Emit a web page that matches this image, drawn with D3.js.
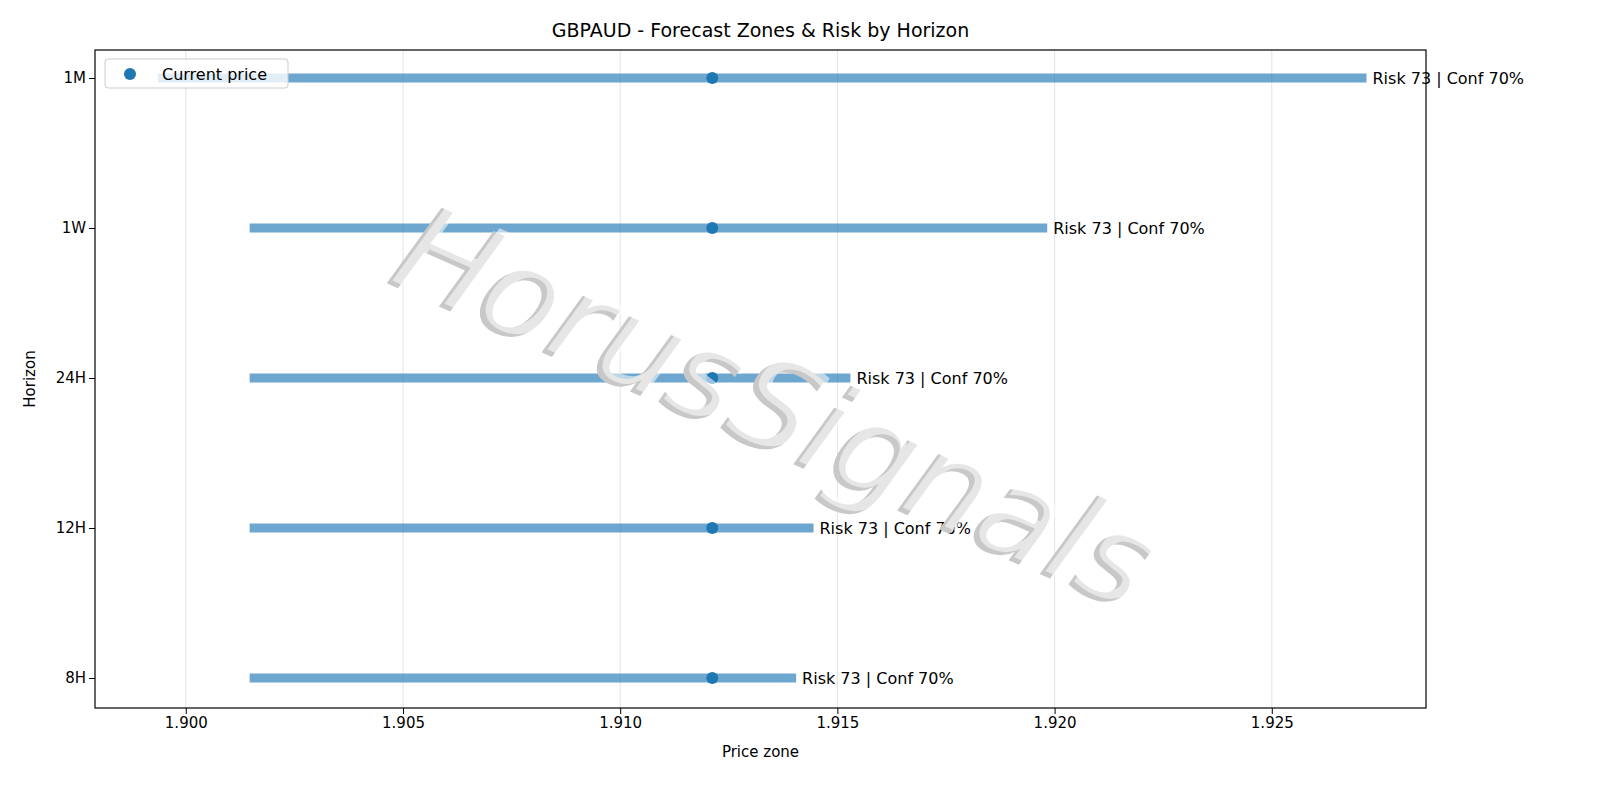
<!DOCTYPE html>
<html><head><meta charset="utf-8">
<script src="https://cdn.jsdelivr.net/npm/d3@7"></script>
<style>html,body{margin:0;overflow:hidden;background:#fff}svg{display:block}text{font-family:"DejaVu Sans",sans-serif}</style>
</head><body><svg id="c" width="1600" height="800"></svg>
<script>
const horizons = ["1M","1W","24H","12H","8H"];
const lows = [1.89936, 1.90147, 1.90147, 1.90147, 1.90147];
const highs = [1.92718, 1.91983, 1.91530, 1.91445, 1.91405];
const current = [1.91212, 1.91212, 1.91212, 1.91212, 1.91212];
const labels = ["Risk 73 | Conf 70%","Risk 73 | Conf 70%","Risk 73 | Conf 70%","Risk 73 | Conf 70%","Risk 73 | Conf 70%"];
const xTicks = [1.900,1.905,1.910,1.915,1.920,1.925];

const svg = d3.select("#c");
const L=95,R=1426,T=50,B=708;
const x = d3.scaleLinear().domain([1.89791,1.92855]).range([L,R]);
const y = d3.scalePoint().domain(horizons).range([T+28,B-30]);

svg.append("g").selectAll("line").data(xTicks).join("line")
 .attr("x1",d=>x(d)).attr("x2",d=>x(d)).attr("y1",T).attr("y2",B)
 .attr("stroke","#e3e3e3").attr("stroke-width",1);

svg.append("g").selectAll("line").data(horizons).join("line")
 .attr("x1",(d,i)=>x(lows[i])).attr("x2",(d,i)=>x(highs[i]))
 .attr("y1",d=>y(d)).attr("y2",d=>y(d))
 .attr("stroke","#1f77b4").attr("stroke-opacity",0.65).attr("stroke-width",9);
svg.append("g").selectAll("circle").data(horizons).join("circle")
 .attr("cx",(d,i)=>x(current[i])).attr("cy",d=>y(d)).attr("r",6).attr("fill","#1f77b4");
svg.append("g").selectAll("text").data(horizons).join("text")
 .attr("x",(d,i)=>x(highs[i])+6).attr("y",d=>y(d)).attr("dy","0.35em")
 .attr("font-size",16).attr("fill","#000").text((d,i)=>labels[i]);

const wm = svg.append("g").attr("transform","translate(780,405) rotate(24) skewX(-12)");
wm.append("text").attr("x",-3).attr("y",5).attr("text-anchor","middle").attr("dy","0.35em")
 .attr("font-size",125).attr("fill","#c8c8c8").text("HorusSignals");
wm.append("text").attr("text-anchor","middle").attr("dy","0.35em")
 .attr("font-size",125).attr("fill","#fff").attr("opacity",0.55).text("HorusSignals");

const xa = svg.append("g").attr("transform",`translate(0,${B})`)
 .call(d3.axisBottom(x).tickValues(xTicks).tickFormat(d3.format(".3f")).tickSizeOuter(0));
const ya = svg.append("g").attr("transform",`translate(${L},0)`)
 .call(d3.axisLeft(y).tickSizeOuter(0));
[xa,ya].forEach(a=>{a.selectAll("text").attr("font-size",15).attr("fill","#000").attr("font-family","DejaVu Sans");
 a.selectAll("line").attr("stroke","#000"); a.select(".domain").remove();});
svg.append("rect").attr("x",L).attr("y",T).attr("width",R-L).attr("height",B-T)
 .attr("fill","none").attr("stroke","#000").attr("stroke-width",1.2);

svg.append("text").attr("x",(L+R)/2).attr("y",37).attr("text-anchor","middle").attr("font-size",19).text("GBPAUD - Forecast Zones & Risk by Horizon");
svg.append("text").attr("x",(L+R)/2).attr("y",757).attr("text-anchor","middle").attr("font-size",15).text("Price zone");
svg.append("text").attr("transform","translate(35,379) rotate(-90)").attr("text-anchor","middle").attr("font-size",15).text("Horizon");

const lg = svg.append("g");
lg.append("rect").attr("x",105).attr("y",59).attr("width",183).attr("height",29).attr("rx",3)
 .attr("fill","#fff").attr("fill-opacity",0.8).attr("stroke","#ccc");
lg.append("circle").attr("cx",130).attr("cy",74).attr("r",6).attr("fill","#1f77b4");
lg.append("text").attr("x",162).attr("y",74).attr("dy","0.35em").attr("font-size",16).text("Current price");
</script></body></html>
